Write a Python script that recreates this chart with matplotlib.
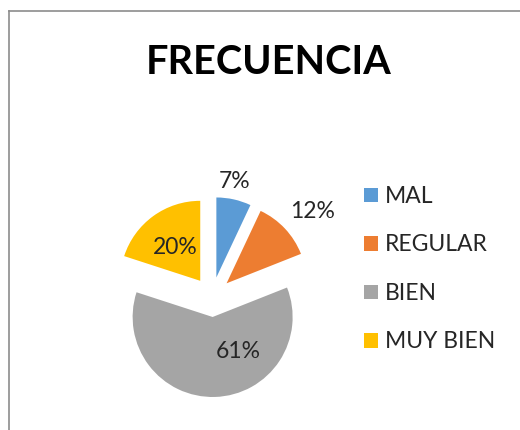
import matplotlib
matplotlib.use("Agg")
import matplotlib.pyplot as plt
from matplotlib.lines import Line2D
from matplotlib.patches import Patch

categories = ["MAL", "REGULAR", "BIEN", "MUY BIEN"]
values = [7, 12, 61, 20]
pct_labels = ["7%", "12%", "61%", "20%"]
title = "FRECUENCIA"

colors = ["#5B9BD5", "#ED7D31", "#A5A5A5", "#FFC000"]
W, H = 520, 430
FONT = "Lato"

fig = plt.figure(figsize=(W / 100, H / 100), dpi=100)
ax = fig.add_axes([0, 0, 1, 1])
ax.set_xlim(0, W)
ax.set_ylim(0, H)
ax.set_aspect("equal")
ax.axis("off")

cx, cy, r = 212, H - 297, 80
wedges, _ = ax.pie(values, colors=colors, startangle=90, counterclock=False,
                   explode=[20] * 4, radius=r, center=(cx, cy),
                   wedgeprops=dict(linewidth=0))
ax.set_xlim(0, W)
ax.set_ylim(0, H)

# label positions (image pixel coords)
label_pos = [(235, 181), (313, 212), (238, 352), (175, 248)]
for txt, (x, y) in zip(pct_labels, label_pos):
    ax.text(x, H - y, txt, ha="center", va="center", fontsize=16.5,
            family=FONT, color="#262626")

fig.text(269 / W, 1 - 62 / H, title, ha="center", va="center",
         fontsize=28.5, fontweight="bold", family=FONT, color="#000000")

handles = [Patch(facecolor=c, edgecolor="none") for c in colors]
leg = fig.legend(handles, categories, loc="upper left",
                 bbox_to_anchor=(364 / W, 1 - 186 / H), frameon=False,
                 prop=dict(family=FONT, size=16.5), handlelength=0.6,
                 handleheight=0.6, handletextpad=0.3, labelspacing=1.2,
                 borderaxespad=0, borderpad=0)
for t in leg.get_texts():
    t.set_color("#262626")

# chart border (left and top)
fig.add_artist(Line2D([9 / W, 9 / W], [0, 1 - 11 / H], color="#8C8C8C",
                      linewidth=1.2, transform=fig.transFigure))
fig.add_artist(Line2D([9 / W, 1], [1 - 11 / H, 1 - 11 / H], color="#8C8C8C",
                      linewidth=1.2, transform=fig.transFigure))

fig.savefig("out.png", dpi=100)
